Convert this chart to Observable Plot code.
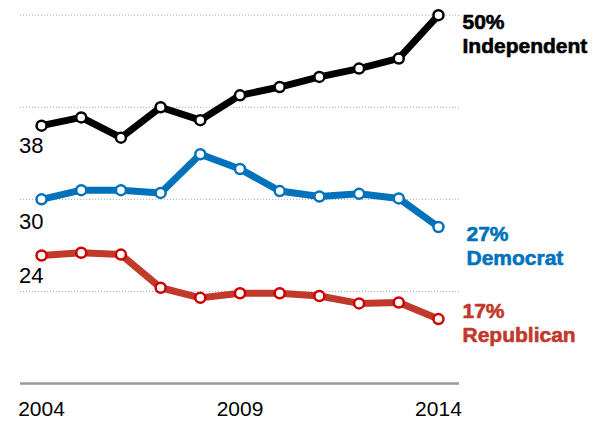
<!DOCTYPE html>
<html>
<head>
<meta charset="utf-8">
<script src="https://cdn.jsdelivr.net/npm/d3@7"></script>
<script src="https://cdn.jsdelivr.net/npm/@observablehq/plot@0.6"></script>
<style>
  html, body { margin: 0; padding: 0; background: #fff; }
  svg { display: block; }
</style>
</head>
<body>
<div id="chart"></div>
<script>
const years = [2004, 2005, 2006, 2007, 2008, 2009, 2010, 2011, 2012, 2013, 2014];
const independent = [38, 38.9, 36.7, 40, 38.6, 41.3, 42.2, 43.3, 44.2, 45.3, 50];
const democrat = [30, 31, 31, 30.7, 34.9, 33.3, 30.9, 30.3, 30.6, 30.1, 27];
const republican = [23.9, 24.2, 24, 20.4, 19.3, 19.8, 19.8, 19.5, 18.7, 18.8, 17];
const seriesNames = ["Independent", "Democrat", "Republican"];
const endLabels = ["50%\nIndependent", "27%\nDemocrat", "17%\nRepublican"];
const startLabels = ["38", "30", "24"];
const gridValues = [20, 30, 40, 50];
const tickYears = [2004, 2009, 2014];

const seriesValues = [independent, democrat, republican];
const lineColors = ["#000000", "#0072bc", "#c0392b"];
const dotColors = ["#000000", "#0072bc", "#cc0000"];
const labelColors = ["#000000", "#0072bc", "#c0392b"];
const endDy = [-3.6, -2.9, -17.6];
const endDx = [24, 28, 24];
const startDy = [27.5, 30, 27];

const rows = [];
seriesNames.forEach((s, i) => years.forEach((y, j) => rows.push({series: s, year: y, value: seriesValues[i][j]})));

const marks = [
  Plot.ruleY(gridValues, {stroke: "#aaa", strokeWidth: 1, strokeDasharray: "1,2"}),
  Plot.ruleY([10], {stroke: "#999", strokeWidth: 2.5}),
  Plot.axisX(tickYears, {tickSize: 0, tickPadding: 18, fontSize: 21, fill: "#000", tickFormat: d => String(d), label: null})
];
seriesNames.forEach((s, i) => {
  const data = rows.filter(r => r.series === s);
  marks.push(Plot.line(data, {x: "year", y: "value", stroke: lineColors[i], strokeWidth: 7, strokeLinejoin: "round"}));
  marks.push(Plot.dot(data, {x: "year", y: "value", r: 5, fill: "white", stroke: dotColors[i], strokeWidth: 2.5}));
  marks.push(Plot.text([data[data.length - 1]], {x: "year", y: "value", text: () => endLabels[i], textAnchor: "start", lineAnchor: "top", lineHeight: 1.14, dx: endDx[i], dy: endDy[i], fontSize: 21, fontWeight: "bold", fill: labelColors[i], stroke: labelColors[i], strokeWidth: 0.6}));
  marks.push(Plot.text([data[0]], {x: "year", y: "value", text: () => startLabels[i], textAnchor: "end", lineAnchor: "bottom", dx: 2, dy: startDy[i], fontSize: 22, fill: "#000"}));
});

const chart = Plot.plot({
  width: 599,
  height: 421,
  marginLeft: 20,
  marginRight: 140,
  marginTop: 14.7,
  marginBottom: 38,
  style: {fontFamily: "'Liberation Sans', Arial, sans-serif", background: "#fff", overflow: "visible"},
  x: {domain: [2003.47, 2014.53], axis: null},
  y: {domain: [10, 50], axis: null},
  marks
});
document.getElementById("chart").appendChild(chart);
</script>
</body>
</html>
